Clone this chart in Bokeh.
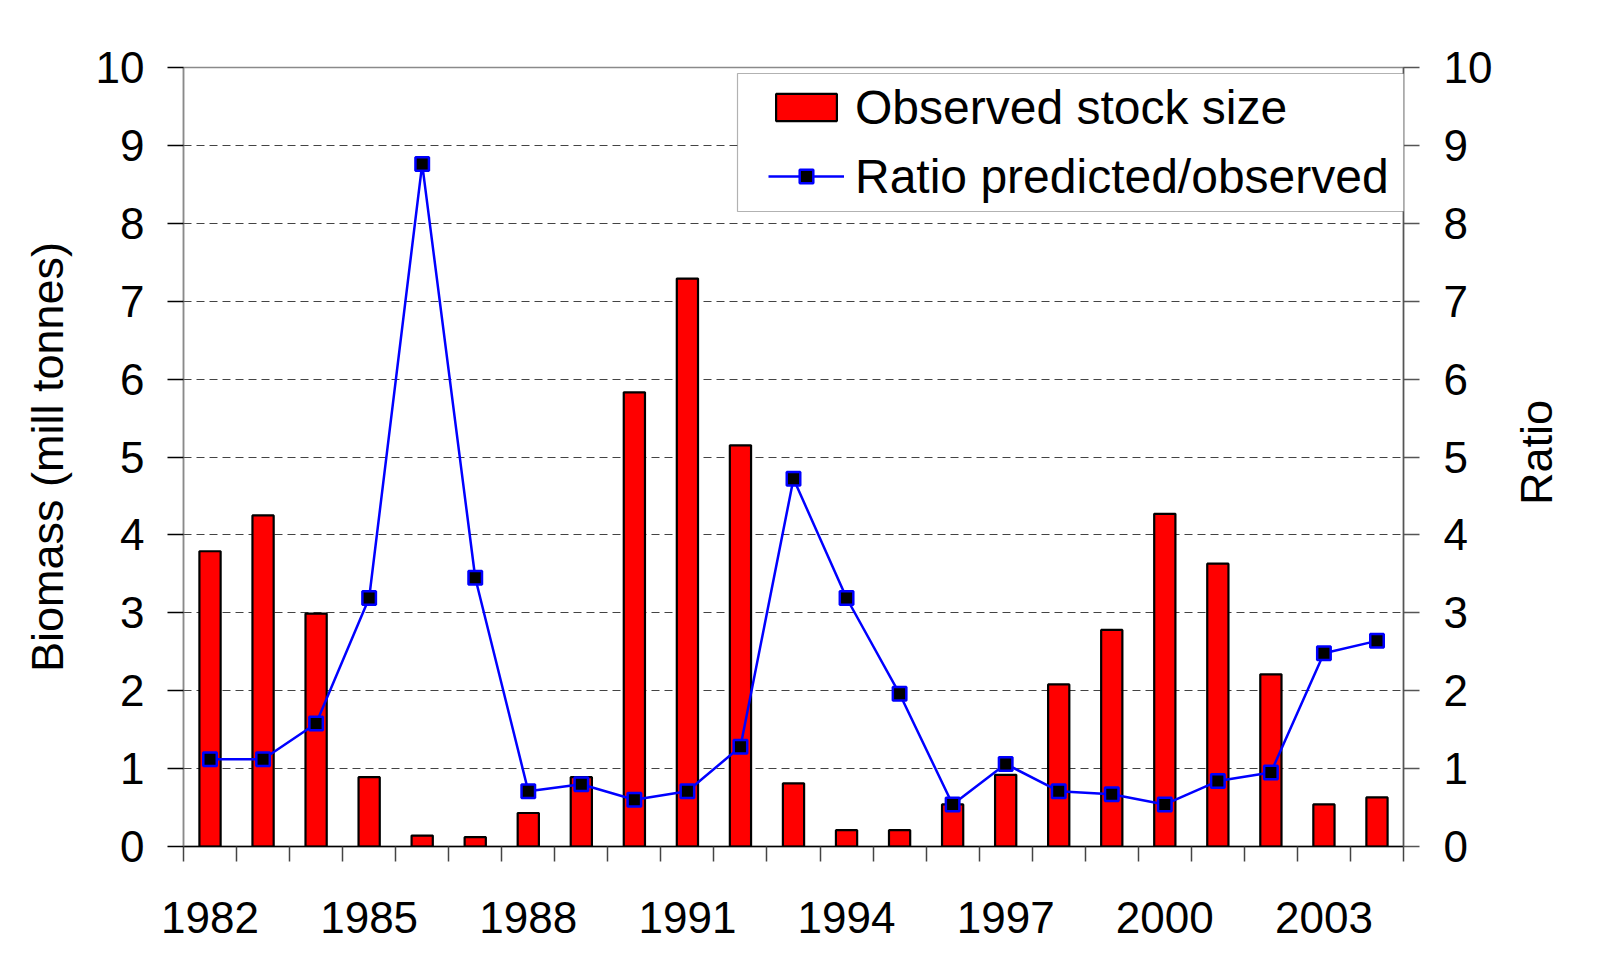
import math
from bokeh.plotting import figure
from bokeh.layouts import row
from bokeh.models import (Range1d, LinearAxis, FixedTicker, Legend, LegendItem,
                          BoxAnnotation, ColumnDataSource)
from bokeh.core.properties import value
from bokeh.embed import file_html
from bokeh.resources import INLINE

# ---- data ----
years = list(range(1982, 2005))
biomass = [3.79, 4.25, 2.99, 0.89, 0.14, 0.12, 0.43, 0.89, 5.83, 7.29, 5.15, 0.81,
           0.21, 0.21, 0.54, 0.92, 2.08, 2.78, 4.27, 3.63, 2.21, 0.54, 0.63]
ratio = [1.12, 1.12, 1.58, 3.19, 8.76, 3.45, 0.71, 0.80, 0.60, 0.71, 1.28, 4.72,
         3.19, 1.96, 0.54, 1.06, 0.71, 0.67, 0.54, 0.84, 0.95, 2.48, 2.64]
x_tick_years = [1982, 1985, 1988, 1991, 1994, 1997, 2000, 2003]
x_tick_labels = ["1982", "1985", "1988", "1991", "1994", "1997", "2000", "2003"]
y_ticks = [0, 1, 2, 3, 4, 5, 6, 7, 8, 9, 10]
bar_label = "Observed stock size"
line_label = "Ratio predicted/observed"
right_label = "Ratio"

FONT = "Liberation Sans"
W, H = 1510, 967      # main chart
W2 = 79               # strip holding the right-hand axis title

src = ColumnDataSource(dict(year=years, biomass=biomass, ratio=ratio))

p = figure(width=W, height=H, output_backend="svg", toolbar_location=None,
           x_range=Range1d(years[0] - 0.5, years[-1] + 0.5),
           y_range=Range1d(0, 10),
           min_border_left=183, min_border_right=W - 1403,
           min_border_top=67, min_border_bottom=H - 846)
p.extra_y_ranges = {"ratio": Range1d(0, 10)}

p.outline_line_color = "#8a8a8a"
p.outline_line_width = 1.5
p.background_fill_color = "white"
p.border_fill_color = "white"

# x axis
xa = p.xaxis[0]
xa.ticker = FixedTicker(ticks=x_tick_years,
                        minor_ticks=[y - 0.5 for y in years] + [years[-1] + 0.5])
xa.major_label_overrides = {t: l for t, l in zip(x_tick_years, x_tick_labels)}
xa.major_tick_out = 0
xa.major_tick_in = 0
xa.minor_tick_out = 15
xa.minor_tick_in = 0
xa.minor_tick_line_color = "#444444"
xa.minor_tick_line_width = 1.5
xa.axis_line_color = "black"
xa.axis_line_width = 1.5
xa.major_label_text_font = FONT
xa.major_label_text_font_size = "44px"
xa.major_label_text_color = "black"
xa.major_label_standoff = 40

# left y axis
ya = p.yaxis[0]
ya.ticker = FixedTicker(ticks=y_ticks, minor_ticks=[])
ya.major_tick_out = 16
ya.major_tick_in = 0
ya.major_tick_line_color = "black"
ya.major_tick_line_width = 1.5
ya.axis_line_color = "#8a8a8a"
ya.axis_line_width = 1.5
ya.major_label_text_font = FONT
ya.major_label_text_font_size = "44px"
ya.major_label_text_color = "black"
ya.major_label_standoff = 23
ya.axis_label = "Biomass (mill tonnes)"
ya.axis_label_text_font = FONT
ya.axis_label_text_font_size = "45px"
ya.axis_label_text_font_style = "normal"
ya.axis_label_text_color = "black"
ya.axis_label_standoff = 20

# right y axis
ra = LinearAxis(y_range_name="ratio", ticker=FixedTicker(ticks=y_ticks, minor_ticks=[]))
ra.major_tick_out = 16
ra.major_tick_in = 0
ra.major_tick_line_color = "#555555"
ra.major_tick_line_width = 1.5
ra.axis_line_color = "#555555"
ra.axis_line_width = 1.5
ra.major_label_text_font = FONT
ra.major_label_text_font_size = "44px"
ra.major_label_text_color = "black"
ra.major_label_standoff = 24
p.add_layout(ra, "right")

# grid
p.xgrid.visible = False
p.ygrid.ticker = FixedTicker(ticks=y_ticks[1:-1], minor_ticks=[])
p.ygrid.grid_line_color = "#444444"
p.ygrid.grid_line_width = 1.2
p.ygrid.grid_line_dash = "8 5"

# bars
bars = p.vbar(x="year", top="biomass", width=0.4, source=src,
              fill_color="#FF0000", line_color="black", line_width=2.2)

# ratio line
ln = p.line(x="year", y="ratio", source=src, y_range_name="ratio",
            line_color="#0000FF", line_width=2.5)
mk = p.scatter(x="year", y="ratio", source=src, y_range_name="ratio",
               marker="square", size=13.5, fill_color="black",
               line_color="#0000FF", line_width=2.5)

# legend frame
box = BoxAnnotation(left=737, right=1417, top=73, bottom=211,
                    left_units="canvas", right_units="canvas",
                    top_units="canvas", bottom_units="canvas",
                    fill_color="white", fill_alpha=1.0,
                    line_color="black", line_width=1.2)
p.add_layout(box)

legend = Legend(items=[LegendItem(label=bar_label, renderers=[bars]),
                       LegendItem(label=line_label, renderers=[ln, mk])],
                location=(585, 642), orientation="vertical",
                border_line_color=None, background_fill_alpha=0,
                padding=0, spacing=13, margin=0,
                glyph_width=76, glyph_height=34, label_height=56,
                label_standoff=11,
                label_text_font=FONT, label_text_font_size="48px",
                label_text_color="black")
p.add_layout(legend)

# strip on the right carrying the "Ratio" axis title (reads bottom-to-top)
p2 = figure(width=W2, height=H, output_backend="svg", toolbar_location=None,
            x_range=Range1d(0, W2), y_range=Range1d(0, H),
            min_border=0, min_border_left=0, min_border_right=0,
            min_border_top=0, min_border_bottom=0)
p2.axis.visible = False
p2.grid.visible = False
p2.outline_line_color = None
p2.background_fill_color = "white"
p2.border_fill_color = "white"
p2.text(x=[1536 - W], y=[H - 478], text=[right_label], angle=math.pi / 2,
        text_align="center", text_baseline="middle",
        text_font=value(FONT), text_font_size="45px", text_color="black")

layout = row(p, p2, spacing=0)
open("out.html", "w").write(file_html(layout, INLINE))
